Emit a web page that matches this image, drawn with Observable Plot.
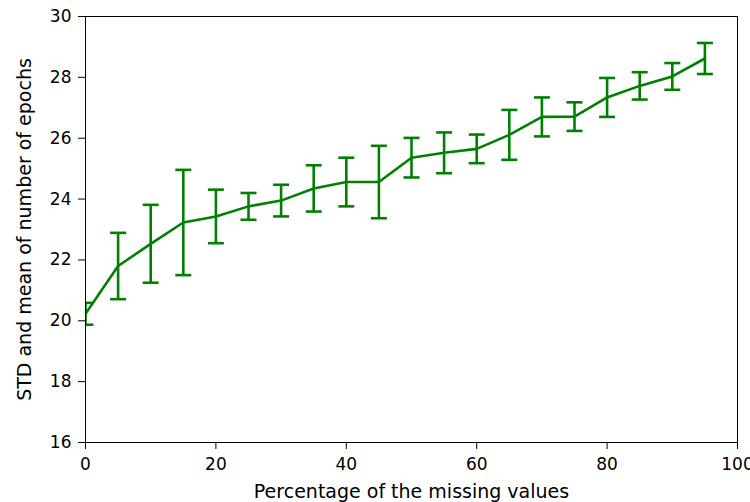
<!DOCTYPE html>
<html>
<head>
<meta charset="utf-8">
<script src="https://cdn.jsdelivr.net/npm/d3@7"></script>
<script src="https://cdn.jsdelivr.net/npm/@observablehq/plot@0.6"></script>
<style>
  html, body { margin: 0; padding: 0; background: #fff; }
  #chart svg { display: block; }
  g[aria-label="x-axis label"], g[aria-label="y-axis label"] { font-size: 19px; }
</style>
</head>
<body>
<div id="chart"></div>
<script>
const missingPct = [0, 5, 10, 15, 20, 25, 30, 35, 40, 45, 50, 55, 60, 65, 70, 75, 80, 85, 90, 95];
const meanEpochs = [20.23, 21.80, 22.53, 23.23, 23.43, 23.76, 23.95, 24.35, 24.56, 24.56, 25.36, 25.52, 25.65, 26.11, 26.70, 26.71, 27.34, 27.72, 28.03, 28.62];
const stdEpochs  = [0.36, 1.09, 1.28, 1.73, 0.88, 0.44, 0.52, 0.76, 0.80, 1.19, 0.65, 0.67, 0.47, 0.82, 0.64, 0.47, 0.64, 0.45, 0.44, 0.51];
const xTicks = [0, 20, 40, 60, 80, 100];
const yTicks = [16, 18, 20, 22, 24, 26, 28, 30];
const xLabel = "Percentage of the missing values";
const yLabel = "STD and mean of number of epochs";

const data = missingPct.map((x, i) => ({
  x, mean: meanEpochs[i], lo: meanEpochs[i] - stdEpochs[i], hi: meanEpochs[i] + stdEpochs[i]
}));

const capSymbol = {
  draw(context) { context.moveTo(-8, 0); context.lineTo(8, 0); }
};
const color = "#008000";

const chart = Plot.plot({
  width: 750,
  height: 502,
  marginLeft: 85,
  marginRight: 13,
  marginTop: 16,
  marginBottom: 60,
  style: { fontFamily: "'DejaVu Sans', sans-serif", fontSize: "17px", color: "#000", background: "#fff" },
  x: { domain: [0, 100] },
  y: { domain: [16, 30] },
  marks: [
    Plot.line(data, { x: "x", y: "mean", stroke: color, strokeWidth: 2.6, clip: true }),
    Plot.ruleX(data, { x: "x", y1: "lo", y2: "hi", stroke: color, strokeWidth: 2.6, clip: true }),
    Plot.dot(data, { x: "x", y: "lo", symbol: capSymbol, stroke: color, strokeWidth: 2.6, fill: "none", clip: true }),
    Plot.dot(data, { x: "x", y: "hi", symbol: capSymbol, stroke: color, strokeWidth: 2.6, fill: "none", clip: true }),
    Plot.frame({ stroke: "#000", strokeWidth: 1 }),
    Plot.axisX({ ticks: xTicks, tickSize: 7, tickPadding: 8, stroke: "#000", label: xLabel, labelArrow: "none", labelAnchor: "center", labelOffset: 55 }),
    Plot.axisY({ ticks: yTicks, tickSize: 7, tickPadding: 7, stroke: "#000", label: yLabel, labelArrow: "none", labelAnchor: "center", labelOffset: 68 })
  ]
});
document.getElementById("chart").appendChild(chart);
</script>
</body>
</html>
